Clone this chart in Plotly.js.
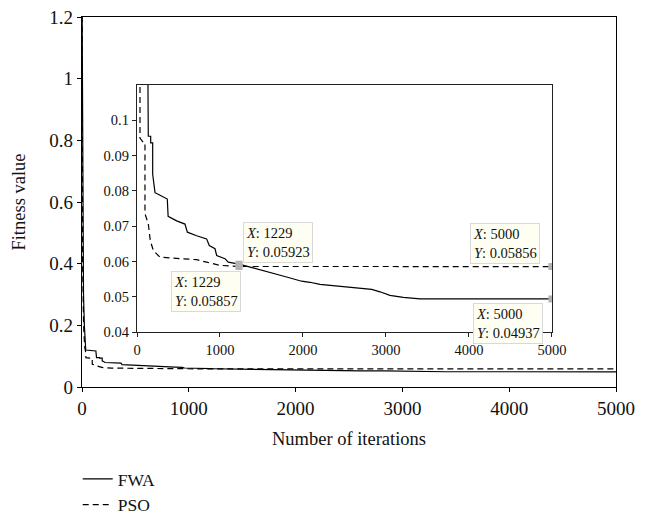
<!DOCTYPE html>
<html>
<head>
<meta charset="utf-8">
<script src="https://cdn.plot.ly/plotly-3.0.1.min.js"></script>
<style>html,body{margin:0;padding:0;background:#fff;}#chart{width:650px;height:514px;}</style>
</head>
<body>
<div id="chart"></div>
<script>
// ---- data ----
const fwaIter = [0, 8, 14, 22, 35, 130, 136, 165, 165, 189, 189, 217, 260, 365, 375, 478, 578, 607, 719, 839, 871, 940, 960, 1060, 1100, 1200, 1229, 1398, 1602, 1803, 1984, 2084, 2205, 2406, 2606, 2828, 2928, 3048, 3209, 3410, 5000];
const fwaVal  = [1.3, 0.45, 0.3, 0.2, 0.12, 0.117, 0.0955, 0.0955, 0.0936, 0.0936, 0.0847, 0.0795, 0.079, 0.0777, 0.0728, 0.0715, 0.0706, 0.0683, 0.0673, 0.0664, 0.0645, 0.0636, 0.0617, 0.0608, 0.0598, 0.0594, 0.05923, 0.0582, 0.057, 0.0556, 0.0544, 0.0541, 0.0535, 0.053, 0.0525, 0.0521, 0.0514, 0.0504, 0.0498, 0.0494, 0.04937];
const psoIter = [0, 6, 15, 25, 36, 36, 80, 96, 96, 136, 160, 197, 277, 518, 719, 839, 919, 1000, 1200, 1229, 5000];
const psoVal  = [1.3, 0.4, 0.2, 0.13, 0.11, 0.095, 0.0936, 0.0936, 0.0735, 0.0707, 0.0659, 0.0631, 0.0612, 0.0608, 0.0605, 0.0598, 0.0594, 0.0589, 0.0586, 0.05857, 0.05856];
const tipX = [1229, 1229, 5000, 5000];
const tipY = [0.05923, 0.05857, 0.05856, 0.04937];
const seriesNames = ["FWA", "PSO"];
const insetYTicks = [0.04, 0.05, 0.06, 0.07, 0.08, 0.09, 0.1];

const FONT = "Liberation Serif, Times New Roman, serif";
const dashStyle = "6px,4px";

const traces = [
  {x: fwaIter, y: fwaVal, name: seriesNames[0], mode: "lines", line: {color: "#000", width: 1.2}, xaxis: "x", yaxis: "y"},
  {x: psoIter, y: psoVal, name: seriesNames[1], mode: "lines", line: {color: "#000", width: 1.2, dash: dashStyle}, xaxis: "x", yaxis: "y"},
  {x: fwaIter, y: fwaVal, name: seriesNames[0], mode: "lines", line: {color: "#000", width: 1.2}, xaxis: "x2", yaxis: "y2", showlegend: false},
  {x: psoIter, y: psoVal, name: seriesNames[1], mode: "lines", line: {color: "#000", width: 1.2, dash: dashStyle}, xaxis: "x2", yaxis: "y2", showlegend: false},
  {x: tipX, y: tipY, mode: "markers", marker: {symbol: "square", size: 7, color: "#b3b3b3"}, xaxis: "x2", yaxis: "y2", showlegend: false, hoverinfo: "skip"}
];

function tip(i) {
  return "<i>X</i>: " + tipX[i] + "<br><i>Y</i>: " + tipY[i];
}
const annBase = {xref: "paper", yref: "paper", xanchor: "left", yanchor: "top", align: "left", showarrow: false,
  bgcolor: "#fefef2", bordercolor: "#d9d9d9", borderwidth: 1, borderpad: 2,
  font: {family: FONT, size: 14.5, color: "#111"}};

const layout = {
  width: 650, height: 514,
  margin: {l: 82, r: 34, t: 17, b: 127, autoexpand: false},
  paper_bgcolor: "#fff", plot_bgcolor: "#fff",
  font: {family: FONT, color: "#111", size: 18},
  showlegend: true,
  legend: {x: -0.008, y: -0.2, xanchor: "left", yanchor: "top", bgcolor: "rgba(0,0,0,0)",
    font: {family: FONT, size: 17.5}, tracegroupgap: 0, itemwidth: 30},
  xaxis: {domain: [0, 1], range: [0, 5000], dtick: 1000, tick0: 0, showgrid: false, zeroline: false,
    showline: true, linecolor: "#000", linewidth: 1.2, mirror: true, ticks: "outside", ticklen: 4, tickcolor: "#000",
    tickfont: {size: 19}, title: {text: "Number of iterations", font: {size: 18.5}, standoff: 14}},
  yaxis: {domain: [0, 1], range: [0, 1.2], dtick: 0.2, tick0: 0, showgrid: false, zeroline: false,
    showline: true, linecolor: "#000", linewidth: 1.2, mirror: true, ticks: "outside", ticklen: 4, tickcolor: "#000",
    tickfont: {size: 19}, title: {text: "Fitness value", font: {size: 18.5}, standoff: 18}},
  xaxis2: {domain: [0.103, 0.880], anchor: "y2", range: [0, 5000], dtick: 1000, tick0: 0, showgrid: false, zeroline: false,
    showline: true, linecolor: "#222", linewidth: 1.2, mirror: true, ticks: "outside", ticklen: 4, tickcolor: "#222",
    tickfont: {size: 14.5}},
  yaxis2: {domain: [0.1486, 0.816], anchor: "x2", range: [0.04, 0.11], tickmode: "array", tickvals: insetYTicks,
    showgrid: false, zeroline: false,
    showline: true, linecolor: "#222", linewidth: 1.2, mirror: true, ticks: "outside", ticklen: 4, tickcolor: "#222",
    tickfont: {size: 14.5}},
  annotations: [
    Object.assign({}, annBase, {x: 0.3015, y: 0.4459, text: tip(0)}),
    Object.assign({}, annBase, {x: 0.1667, y: 0.3135, text: tip(1)}),
    Object.assign({}, annBase, {x: 0.7266, y: 0.4432, text: tip(2)}),
    Object.assign({}, annBase, {x: 0.7322, y: 0.2270, text: tip(3)})
  ]
};

Plotly.newPlot("chart", traces, layout, {staticPlot: true, displayModeBar: false});
</script>
</body>
</html>
